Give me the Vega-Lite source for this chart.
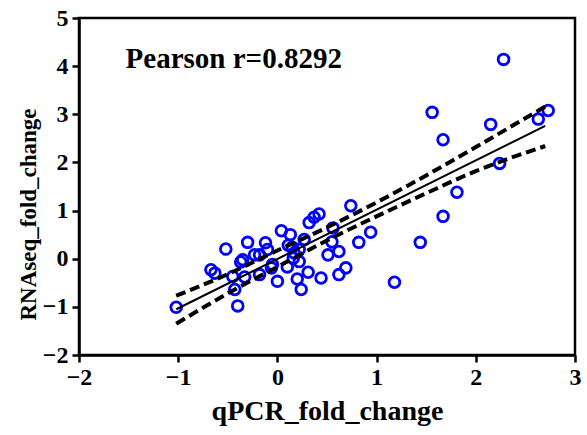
{
  "$schema": "https://vega.github.io/schema/vega-lite/v6.json",
  "width": 496,
  "height": 337,
  "autosize": {"type": "none"},
  "padding": {"left": 79, "top": 18, "right": 12, "bottom": 80},
  "background": "white",
  "config": {
    "view": {"stroke": "black", "strokeWidth": 2.5},
    "font": "Liberation Serif"
  },
  "datasets": {
    "pts": [
      {"q": -1.02, "r": -1.01}, {"q": -0.40, "r": -0.98}, {"q": -0.43, "r": -0.64},
      {"q": -0.67, "r": -0.23}, {"q": -0.63, "r": -0.30}, {"q": -0.52, "r": 0.20},
      {"q": -0.45, "r": -0.37}, {"q": -0.33, "r": -0.38}, {"q": -0.30, "r": 0.34},
      {"q": -0.35, "r": -0.02}, {"q": -0.37, "r": -0.07}, {"q": -0.12, "r": 0.33},
      {"q": -0.10, "r": 0.19}, {"q": -0.23, "r": 0.08}, {"q": -0.18, "r": 0.08},
      {"q": -0.18, "r": -0.33}, {"q": -0.05, "r": -0.12}, {"q": 0.04, "r": 0.58},
      {"q": 0.13, "r": 0.50}, {"q": 0.15, "r": 0.24}, {"q": 0.22, "r": 0.19},
      {"q": 0.27, "r": 0.40}, {"q": 0.16, "r": 0.01}, {"q": 0.10, "r": -0.17},
      {"q": 0.00, "r": -0.47}, {"q": 0.20, "r": -0.42}, {"q": 0.31, "r": -0.28},
      {"q": 0.24, "r": -0.64}, {"q": 0.22, "r": -0.06}, {"q": 0.32, "r": 0.75},
      {"q": 0.37, "r": 0.86}, {"q": 0.42, "r": 0.93}, {"q": 0.44, "r": -0.40},
      {"q": 0.62, "r": -0.33}, {"q": 0.69, "r": -0.19}, {"q": 0.51, "r": 0.08},
      {"q": 0.62, "r": 0.15}, {"q": 0.55, "r": 0.35}, {"q": 0.56, "r": 0.64},
      {"q": 0.74, "r": 1.10}, {"q": 0.82, "r": 0.34}, {"q": 0.94, "r": 0.55},
      {"q": 1.18, "r": -0.49}, {"q": 1.44, "r": 0.34}, {"q": 1.56, "r": 3.04},
      {"q": 1.67, "r": 2.47}, {"q": 1.67, "r": 0.88}, {"q": 1.81, "r": 1.38},
      {"q": 2.15, "r": 2.79}, {"q": 2.24, "r": 1.98}, {"q": 2.28, "r": 4.14},
      {"q": 2.63, "r": 2.90}, {"q": 2.73, "r": 3.08}, {"q": 0.11, "r": 0.28},
      {"q": 0.17, "r": 0.12}, {"q": -0.06, "r": -0.19}
    ],
    "fit": [
      {"q": -1.02, "r": -1.05}, {"q": 2.70, "r": 2.76}
    ],
    "bands": [
      {"band": "upper", "q": -1.02, "r": -0.77}, {"band": "upper", "q": -0.5, "r": -0.32},
      {"band": "upper", "q": 0.0, "r": 0.17}, {"band": "upper", "q": 0.5, "r": 0.65},
      {"band": "upper", "q": 1.0, "r": 1.17}, {"band": "upper", "q": 1.5, "r": 1.73},
      {"band": "upper", "q": 2.0, "r": 2.32}, {"band": "upper", "q": 2.7, "r": 3.16},
      {"band": "lower", "q": -1.02, "r": -1.35}, {"band": "lower", "q": -0.5, "r": -0.72},
      {"band": "lower", "q": 0.0, "r": -0.17}, {"band": "lower", "q": 0.5, "r": 0.38},
      {"band": "lower", "q": 1.0, "r": 0.88}, {"band": "lower", "q": 1.5, "r": 1.36},
      {"band": "lower", "q": 2.0, "r": 1.82}, {"band": "lower", "q": 2.7, "r": 2.34}
    ],
    "label": [{"q": -1.53, "r": 4.14, "t": "Pearson r=0.8292"}]
  },
  "encoding": {
    "x": {
      "field": "q", "type": "quantitative",
      "scale": {"domain": [-2, 3], "nice": false, "zero": false},
      "axis": {
        "title": "qPCR_fold_change", "values": [-2, -1, 0, 1, 2, 3],
        "grid": false, "domainColor": "black", "domainWidth": 2.5,
        "tickColor": "black", "tickWidth": 2.5, "tickSize": 7,
        "labelFont": "Liberation Serif", "labelFontWeight": "bold", "labelFontSize": 24,
        "labelColor": "black", "labelPadding": 3, "labelFlush": false,
        "titleFont": "Liberation Serif", "titleFontWeight": "bold", "titleFontSize": 28,
        "titleColor": "black", "titlePadding": 8
      }
    },
    "y": {
      "field": "r", "type": "quantitative",
      "scale": {"domain": [-2, 5], "nice": false, "zero": false},
      "axis": {
        "title": "RNAseq_fold_change", "values": [-2, -1, 0, 1, 2, 3, 4, 5],
        "grid": false, "domainColor": "black", "domainWidth": 2.5,
        "tickColor": "black", "tickWidth": 2.5, "tickSize": 7,
        "labelFont": "Liberation Serif", "labelFontWeight": "bold", "labelFontSize": 24,
        "labelColor": "black", "labelPadding": 4, "labelFlush": false,
        "titleFont": "Liberation Serif", "titleFontWeight": "bold", "titleFontSize": 23,
        "titleColor": "black", "titleX": -39, "titleY": 196
      }
    }
  },
  "layer": [
    {
      "data": {"values": [{}]},
      "mark": {"type": "rule", "color": "black", "strokeWidth": 1.2, "strokeDash": [2, 2]},
      "encoding": {"y": {"datum": 0}, "x": null}
    },
    {
      "data": {"name": "pts"},
      "mark": {"type": "point", "shape": "circle", "filled": false, "color": "#0000ff", "strokeWidth": 2.8, "size": 115, "opacity": 1}
    },
    {
      "data": {"name": "fit"},
      "mark": {"type": "line", "color": "black", "strokeWidth": 2}
    },
    {
      "data": {"name": "bands"},
      "mark": {"type": "line", "color": "black", "strokeWidth": 4, "strokeDash": [10, 5], "interpolate": "monotone"},
      "encoding": {"detail": {"field": "band", "type": "nominal"}}
    },
    {
      "data": {"name": "label"},
      "mark": {"type": "text", "align": "left", "baseline": "middle", "font": "Liberation Serif", "fontWeight": "bold", "fontSize": 29, "color": "black"},
      "encoding": {"text": {"field": "t", "type": "nominal"}}
    }
  ]
}
